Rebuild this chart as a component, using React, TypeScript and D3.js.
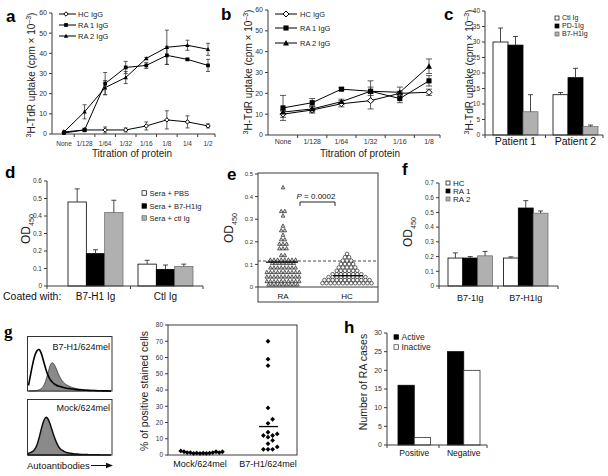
import React from 'react';
import * as d3 from 'd3';

const FONT = "'Liberation Sans', Arial, Helvetica, sans-serif";
const AXIS = '#3a3a3a';

// ---------- Panel a ----------
const aCats = ['None', '1/128', '1/64', '1/32', '1/16', '1/8', '1/4', '1/2'];
const aNames = ['HC IgG', 'RA 1 IgG', 'RA 2 IgG'];
const aHC = [1, 2, 2, 2, 4, 7, 6, 4];
const aHCErr = [0.4, 0.8, 1.5, 1, 2, 4.5, 3, 1];
const aRA1 = [0.5, 2, 25, 33, 34, 39, 37, 34];
const aRA1Err = [0.3, 0.8, 5.5, 3, 1.5, 4.5, 0.5, 3];
const aRA2 = [1, 11, 23, 28, 37.5, 43, 44, 42];
const aRA2Err = [0.3, 3.5, 3.5, 3, 0.5, 8.5, 2.5, 3];
const aYTicks = [0, 10, 20, 30, 40, 50, 60];

// ---------- Panel b ----------
const bCats = ['None', '1/128', '1/64', '1/32', '1/16', '1/8'];
const bNames = ['HC IgG', 'RA 1 IgG', 'RA 2 IgG'];
const bHC = [10, 12, 15, 16.5, 20, 20.5];
const bHCErr = [1.5, 1.5, 1.5, 4, 1, 1.5];
const bRA1 = [13, 15.5, 22, 21, 17.5, 26];
const bRA1Err = [6, 2, 0.7, 2, 2, 2.5];
const bRA2 = [11, 12.5, 16, 21, 20.5, 33];
const bRA2Err = [1, 1.5, 1.2, 5, 2.5, 3.5];
const bYTicks = [0, 10, 20, 30, 40, 50, 60];

// ---------- Panel c ----------
const cGroups = ['Patient 1', 'Patient 2'];
const cSeries = ['Ctl Ig', 'PD-1Ig', 'B7-H1Ig'];
const cCtl = [30, 13];
const cCtlErr = [4.5, 0.7];
const cPD1 = [29, 18.5];
const cPD1Err = [2.8, 3];
const cB7 = [7.5, 2.7];
const cB7Err = [5.5, 0.5];
const cYTicks = [0, 5, 10, 15, 20, 25, 30, 35, 40];

// ---------- Panel d ----------
const dGroups = ['B7-H1 Ig', 'Ctl Ig'];
const dSeries = ['Sera + PBS', 'Sera + B7-H1Ig', 'Sera + ctl Ig'];
const dPBS = [0.48, 0.125];
const dPBSErr = [0.075, 0.022];
const dB7 = [0.185, 0.095];
const dB7Err = [0.022, 0.025];
const dCtl = [0.42, 0.112];
const dCtlErr = [0.07, 0.013];
const dYTicks = [0, 0.1, 0.2, 0.3, 0.4, 0.5, 0.6];

// ---------- Panel e ----------
const eRA = [
  0.435, 0.33, 0.33, 0.31, 0.265, 0.245, 0.245, 0.225, 0.205, 0.205,
  0.185, 0.185, 0.185, 0.165, 0.165, 0.165, 0.135, 0.135,
  0.115, 0.115, 0.115, 0.115, 0.115, 0.115, 0.115, 0.115,
  0.1, 0.1, 0.1, 0.1, 0.1, 0.1, 0.1,
  0.08, 0.08, 0.08, 0.08, 0.08, 0.08, 0.08, 0.08,
  0.06, 0.06, 0.06, 0.06, 0.06, 0.06, 0.06, 0.06, 0.06, 0.06,
  0.04, 0.04, 0.04, 0.04, 0.04, 0.04, 0.04, 0.04, 0.04, 0.04,
  0.02, 0.02, 0.02, 0.02, 0.02, 0.02, 0.02, 0.02, 0.02, 0.02,
  0.005, 0.005, 0.005, 0.005, 0.005, 0.005, 0.005, 0.005, 0.005,
];
const eHC = [
  0.14, 0.125, 0.125, 0.11, 0.11, 0.11, 0.095, 0.095, 0.095, 0.095,
  0.08, 0.08, 0.08, 0.08, 0.08, 0.065, 0.065, 0.065, 0.065, 0.065, 0.065,
  0.05, 0.05, 0.05, 0.05, 0.05, 0.05, 0.05, 0.05,
  0.037, 0.037, 0.037, 0.037, 0.037, 0.037, 0.037, 0.037, 0.037, 0.037,
  0.024, 0.024, 0.024, 0.024, 0.024, 0.024, 0.024, 0.024, 0.024, 0.024, 0.024, 0.024,
  0.01, 0.01, 0.01, 0.01, 0.01, 0.01, 0.01, 0.01, 0.01, 0.01, 0.01, 0.01, 0.01,
];
const eMedianRA = 0.11;
const eMedianHC = 0.05;
const eCutoff = 0.115;
const eYTicks = [0, 0.1, 0.2, 0.3, 0.4, 0.5];

// ---------- Panel f ----------
const fGroups = ['B7-1Ig', 'B7-H1Ig'];
const fSeries = ['HC', 'RA 1', 'RA 2'];
const fHC = [0.19, 0.19];
const fHCErr = [0.035, 0.008];
const fRA1 = [0.19, 0.53];
const fRA1Err = [0.01, 0.05];
const fRA2 = [0.205, 0.495];
const fRA2Err = [0.03, 0.015];
const fYTicks = [0, 0.1, 0.2, 0.3, 0.4, 0.5, 0.6, 0.7];

// ---------- Panel g ----------
const gTopOpen = [0.1, 0.3, 0.5, 0.66, 0.74, 0.77, 0.7, 0.56, 0.42, 0.3, 0.22, 0.17, 0.13, 0.11, 0.09, 0.08, 0.07, 0.06, 0.05, 0.045, 0.04, 0.035, 0.03, 0.025, 0.02, 0.02, 0.015, 0.015, 0.012, 0.01, 0.01, 0.008, 0.006, 0.005, 0.004, 0.003, 0.002, 0.002, 0.001, 0];
const gTopFilled = [0, 0, 0, 0, 0.01, 0.02, 0.04, 0.08, 0.16, 0.3, 0.45, 0.53, 0.5, 0.42, 0.32, 0.24, 0.18, 0.14, 0.11, 0.09, 0.075, 0.06, 0.05, 0.042, 0.035, 0.03, 0.025, 0.02, 0.018, 0.015, 0.012, 0.01, 0.008, 0.006, 0.005, 0.004, 0.003, 0.002, 0.001, 0];
const gBottomFilled = [0.03, 0.04, 0.06, 0.1, 0.17, 0.3, 0.46, 0.6, 0.68, 0.67, 0.58, 0.46, 0.34, 0.24, 0.16, 0.11, 0.08, 0.06, 0.045, 0.035, 0.03, 0.025, 0.02, 0.016, 0.013, 0.011, 0.01, 0.008, 0.007, 0.006, 0.005, 0.004, 0.003, 0.003, 0.002, 0.002, 0.001, 0.001, 0, 0];
const gCats = ['Mock/624mel', 'B7-H1/624mel'];
const gMock = [1, 1.5, 1.2, 2, 1.5, 1, 2.5, 2, 1.5, 1.2, 2, 1.5, 1, 1.2];
const gB7 = [70, 59, 55, 29, 22, 19.5, 14, 13, 12, 12, 11, 9, 7, 5, 3.5, 3.5, 3.5];
const gB7Median = 17.5;
const gYTicks = [0, 10, 20, 30, 40, 50, 60, 70, 80];

// ---------- Panel h ----------
const hGroups = ['Positive', 'Negative'];
const hSeries = ['Active', 'Inactive'];
const hActive = [16, 25];
const hInactive = [2, 20];
const hYTicks = [0, 5, 10, 15, 20, 25, 30];

type MarkerType = 'diamond' | 'square' | 'triangle';

function Marker({ type, x, y, s }: { type: MarkerType; x: number; y: number; s: number }) {
  if (type === 'diamond')
    return <path d={`M${x},${y - s}L${x + s},${y}L${x},${y + s}L${x - s},${y}Z`} fill="#fff" stroke="#000" strokeWidth={1} />;
  if (type === 'square')
    return <rect x={x - s * 0.85} y={y - s * 0.85} width={s * 1.7} height={s * 1.7} fill="#000" />;
  return <path d={`M${x},${y - s}L${x + s},${y + s * 0.8}L${x - s},${y + s * 0.8}Z`} fill="#000" />;
}

function YAxis({ scale, x, ticks, fs = 7, len = 3, fmt }: any) {
  const [r0, r1] = scale.range();
  return (
    <g>
      <line x1={x} x2={x} y1={r0} y2={r1} stroke={AXIS} strokeWidth={1} />
      {ticks.map((t: number) => (
        <g key={t}>
          <line x1={x - len} x2={x} y1={scale(t)} y2={scale(t)} stroke={AXIS} />
          <text x={x - len - 2} y={scale(t)} dy="0.35em" textAnchor="end" fontSize={fs} fill="#333">
            {fmt ? fmt(t) : String(t)}
          </text>
        </g>
      ))}
    </g>
  );
}

function UptakeLabel({ x, y, fs = 10 }: { x: number; y: number; fs?: number }) {
  return (
    <text transform={`translate(${x},${y}) rotate(-90)`} textAnchor="middle" fontSize={fs} fill="#222">
      <tspan fontSize={fs * 0.7} dy={-fs * 0.4}>3</tspan>
      <tspan dy={fs * 0.4}>H-TdR uptake (cpm × 10</tspan>
      <tspan fontSize={fs * 0.7} dy={-fs * 0.4}>–3</tspan>
      <tspan dy={fs * 0.4}>)</tspan>
    </text>
  );
}

function ODLabel({ x, y, fs = 12 }: { x: number; y: number; fs?: number }) {
  return (
    <text transform={`translate(${x},${y}) rotate(-90)`} textAnchor="middle" fontSize={fs} fill="#222">
      OD<tspan fontSize={fs * 0.6} dy={fs * 0.3}>450</tspan>
    </text>
  );
}

function LinePanel({ cats, vals, errs, markers, names, xr, axX, ys, yTicks, ms, cap, labelY, labelFs, leg }: any) {
  const xs = d3.scalePoint<string>(cats, xr);
  const y0 = ys.range()[0];
  const mids: number[] = [];
  for (let i = 1; i < cats.length; i++) mids.push(((xs(cats[i - 1]) as number) + (xs(cats[i]) as number)) / 2);
  mids.push(axX[1]);
  const line = d3.line<number>().x((_, i) => xs(cats[i]) as number).y((d) => ys(d));
  return (
    <g>
      <YAxis scale={ys} x={axX[0]} ticks={yTicks} fs={7} />
      <line x1={axX[0]} x2={axX[1]} y1={y0} y2={y0} stroke={AXIS} />
      {mids.map((m, i) => <line key={i} x1={m} x2={m} y1={y0} y2={y0 + 3} stroke={AXIS} />)}
      {cats.map((c: string) => (
        <text key={c} x={xs(c)} y={labelY} textAnchor="middle" fontSize={labelFs} fill="#333">{c}</text>
      ))}
      {vals.map((sv: number[], si: number) => (
        <g key={si}>
          {sv.map((v, i) => {
            const x = xs(cats[i]) as number;
            const e = errs[si][i];
            return (
              <g key={i} stroke="#333" strokeWidth={0.8}>
                <line x1={x} x2={x} y1={ys(v - e)} y2={ys(v + e)} />
                <line x1={x - cap} x2={x + cap} y1={ys(v - e)} y2={ys(v - e)} />
                <line x1={x - cap} x2={x + cap} y1={ys(v + e)} y2={ys(v + e)} />
              </g>
            );
          })}
          <path d={line(sv) as string} fill="none" stroke="#000" strokeWidth={1} />
        </g>
      ))}
      {vals.map((sv: number[], si: number) =>
        sv.map((v, i) => <Marker key={`${si}-${i}`} type={markers[si]} x={xs(cats[i]) as number} y={ys(v)} s={ms} />)
      )}
      {names.map((n: string, i: number) => (
        <g key={n}>
          <line x1={leg.x0} x2={leg.x1} y1={leg.ys[i]} y2={leg.ys[i]} stroke="#000" />
          <Marker type={markers[i]} x={leg.mx} y={leg.ys[i]} s={ms} />
          <text x={leg.tx} y={leg.ys[i]} dy="0.35em" fontSize={leg.fs} fill="#222">{n}</text>
        </g>
      ))}
    </g>
  );
}

const FILL_STYLES = [
  { fill: '#fff', stroke: '#000', sw: 0.8 },
  { fill: '#000', stroke: '#000', sw: 0.8 },
  { fill: '#b0b0b0', stroke: '#666', sw: 0.7 },
];

function BarPanel({ groups, series, vals, errs, styles, band, pad, ys, axX, yTicks, yFmt, tickFs, groupLabelY, groupFs, leg }: any) {
  const gx = d3.scaleBand<string>(groups, band).paddingInner(pad).paddingOuter(pad / 2);
  const sx = d3.scaleBand<string>(series, [0, gx.bandwidth()]);
  const y0 = ys.range()[0];
  const bticks = [axX[0], ...groups.slice(1).map((g: string) => (gx(g) as number) - (gx.step() * pad) / 2), axX[1]];
  return (
    <g>
      <YAxis scale={ys} x={axX[0]} ticks={yTicks} fs={tickFs} fmt={yFmt} />
      {groups.map((g: string, gi: number) =>
        series.map((s: string, si: number) => {
          const v = vals[si][gi];
          const x = (gx(g) as number) + (sx(s) as number);
          const w = sx.bandwidth();
          const st = styles[si];
          const e = errs ? errs[si][gi] : 0;
          return (
            <g key={`${g}-${s}`}>
              <rect x={x} y={ys(v)} width={w} height={y0 - ys(v)} fill={st.fill} stroke={st.stroke} strokeWidth={st.sw} />
              {errs && (
                <g stroke="#333" strokeWidth={0.9}>
                  <line x1={x + w / 2} x2={x + w / 2} y1={ys(v)} y2={ys(v + e)} />
                  <line x1={x + w / 2 - 2.5} x2={x + w / 2 + 2.5} y1={ys(v + e)} y2={ys(v + e)} />
                </g>
              )}
            </g>
          );
        })
      )}
      <line x1={axX[0]} x2={axX[1]} y1={y0} y2={y0} stroke={AXIS} />
      {bticks.map((t: number, i: number) => <line key={i} x1={t} x2={t} y1={y0} y2={y0 + 3} stroke={AXIS} />)}
      {groups.map((g: string) => (
        <text key={g} x={(gx(g) as number) + gx.bandwidth() / 2} y={groupLabelY} textAnchor="middle" fontSize={groupFs} fill="#111">{g}</text>
      ))}
      {series.map((s: string, i: number) => (
        <g key={s}>
          <rect x={leg.x} y={leg.ys[i] - leg.sq / 2} width={leg.sq} height={leg.sq} fill={styles[i].fill} stroke={styles[i].stroke} strokeWidth={0.7} />
          <text x={leg.x + leg.sq + 3} y={leg.ys[i]} dy="0.35em" fontSize={leg.fs} fill="#222">{s}</text>
        </g>
      ))}
    </g>
  );
}

function rowLayout(vals: number[], cx: number, sp: number) {
  const out: { v: number; x: number }[] = [];
  d3.groups(vals, (v) => v).forEach(([v, arr]) => {
    arr.forEach((_, i) => out.push({ v, x: cx + (i - (arr.length - 1) / 2) * sp }));
  });
  return out;
}

function dodge(vals: number[], ys: (v: number) => number, cx: number, d: number) {
  const placed: { x: number; y: number; v: number }[] = [];
  [...vals].sort((a, b) => a - b).forEach((v) => {
    const y = ys(v);
    for (let k = 0; k < 200; k++) {
      const off = k === 0 ? 0 : (k % 2 === 1 ? 1 : -1) * Math.ceil(k / 2) * d;
      const x = cx + off;
      if (placed.every((p) => Math.hypot(p.x - x, p.y - y) >= d)) {
        placed.push({ x, y, v });
        break;
      }
    }
  });
  return placed;
}

function Histogram({ bins, x0, x1, yb, yt, filled, sw }: any) {
  const xs = d3.scaleLinear([0, bins.length - 1], [x0, x1]);
  const ys = d3.scaleLinear([0, 1], [yb, yt]);
  if (filled) {
    const area = d3.area<number>().x((_, i) => xs(i)).y0(yb).y1((d) => ys(d)).curve(d3.curveBasis);
    return <path d={area(bins) as string} fill="#8a8a8a" stroke="#111" strokeWidth={sw} />;
  }
  const line = d3.line<number>().x((_, i) => xs(i)).y((d) => ys(d)).curve(d3.curveBasis);
  return <path d={line(bins) as string} fill="none" stroke="#000" strokeWidth={sw} />;
}

export default function App() {
  const ayS = d3.scaleLinear([0, 60], [134, 13]);
  const byS = d3.scaleLinear([0, 60], [135, 10]);
  const cyS = d3.scaleLinear([0, 40], [135, 11]);
  const dyS = d3.scaleLinear([0, 0.6], [286, 181]);
  const eyS = d3.scaleLinear([0, 0.5], [287, 174]);
  const eRApts = rowLayout(eRA, 283, 3.6);
  const eHCpts = rowLayout(eHC, 347, 4.1);
  const fyS = d3.scaleLinear([0, 0.7], [286, 183]);
  const gyS = d3.scaleLinear([0, 80], [455, 325]);
  const gx = d3.scalePoint<string>(gCats, [200, 268]);
  const mockPts = dodge(gMock, gyS, gx('Mock/624mel') as number, 3.2);
  const b7Pts = dodge(gB7, gyS, gx('B7-H1/624mel') as number, 4.6);
  const hyS = d3.scaleLinear([0, 30], [445, 333]);

  const fmt1 = (t: number) => (t === 0 ? '0' : t.toFixed(1));

  return (
    <div style={{ position: 'absolute', left: 0, top: 0 }}>
      <svg width={608} height={476} style={{ display: 'block', background: '#fff' }} fontFamily={FONT}>
        <rect x={0} y={0} width={608} height={476} fill="#fff" />

        <g fontWeight="bold" fill="#000" fontSize={17}>
          <text x={6} y={22}>a</text>
          <text x={221} y={20}>b</text>
          <text x={444} y={20}>c</text>
          <text x={5} y={178}>d</text>
          <text x={227} y={180}>e</text>
          <text x={402} y={175}>f</text>
          <text x={4} y={337} fontFamily="'Liberation Serif', serif">g</text>
          <text x={344} y={333}>h</text>
        </g>

        {/* a */}
        <LinePanel
          cats={aCats} vals={[aHC, aRA1, aRA2]} errs={[aHCErr, aRA1Err, aRA2Err]}
          markers={['diamond', 'square', 'triangle']} names={aNames}
          xr={[64, 208]} axX={[52, 215]} ys={ayS} yTicks={aYTicks} ms={2.2} cap={2}
          labelY={145.5} labelFs={6.5}
          leg={{ x0: 59, x1: 76, mx: 66, tx: 78, ys: [14, 25, 36], fs: 7.5 }}
        />
        <UptakeLabel x={35} y={75} fs={10} />
        <text x={132} y={157} textAnchor="middle" fontSize={10} fill="#222">Titration of protein</text>

        {/* b */}
        <LinePanel
          cats={bCats} vals={[bHC, bRA1, bRA2]} errs={[bHCErr, bRA1Err, bRA2Err]}
          markers={['diamond', 'square', 'triangle']} names={bNames}
          xr={[283, 429]} axX={[268, 440]} ys={byS} yTicks={bYTicks} ms={3} cap={3}
          labelY={143.5} labelFs={7}
          leg={{ x0: 275, x1: 297, mx: 286, tx: 300, ys: [14, 28, 43], fs: 7.5 }}
        />
        <UptakeLabel x={252} y={72} fs={10} />
        <text x={360} y={157} textAnchor="middle" fontSize={10} fill="#222">Titration of protein</text>

        {/* c */}
        <BarPanel
          groups={cGroups} series={cSeries} vals={[cCtl, cPD1, cB7]} errs={[cCtlErr, cPD1Err, cB7Err]}
          styles={FILL_STYLES} band={[485.5, 605.5]} pad={0.25} ys={cyS} axX={[485, 603]}
          yTicks={cYTicks} tickFs={6.5} groupLabelY={145} groupFs={10.5}
          leg={{ x: 555, ys: [18, 26, 34], sq: 4, fs: 7 }}
        />
        <UptakeLabel x={473} y={72} fs={10} />

        {/* d */}
        <BarPanel
          groups={dGroups} series={dSeries} vals={[dPBS, dB7, dCtl]} errs={[dPBSErr, dB7Err, dCtlErr]}
          styles={FILL_STYLES} band={[60.5, 200.5]} pad={15 / 70} ys={dyS} axX={[47, 203]}
          yTicks={dYTicks} yFmt={fmt1} tickFs={6.5} groupLabelY={300} groupFs={10}
          leg={{ x: 142, ys: [193, 206, 218], sq: 4.5, fs: 7.5 }}
        />
        <text x={3} y={300} fontSize={10.5} fill="#111">Coated with:</text>
        <ODLabel x={30} y={229} fs={12} />

        {/* e */}
        <g>
          <rect x={258} y={173} width={120} height={129} fill="none" stroke={AXIS} />
          <line x1={258} x2={378} y1={287} y2={287} stroke={AXIS} />
          {eYTicks.map((t) => (
            <g key={t}>
              <line x1={255} x2={258} y1={eyS(t)} y2={eyS(t)} stroke={AXIS} />
              <text x={253} y={eyS(t)} dy="0.35em" textAnchor="end" fontSize={6} fill="#333">{t === 0 ? '0' : t.toFixed(1)}</text>
            </g>
          ))}
          <line x1={258} x2={378} y1={eyS(eCutoff)} y2={eyS(eCutoff)} stroke="#333" strokeDasharray="3,2" strokeWidth={0.9} />
          {eRApts.map((p, i) => {
            const y = eyS(p.v) - 1.2;
            return <path key={i} d={`M${p.x},${y - 2}L${p.x + 1.8},${y + 1.4}L${p.x - 1.8},${y + 1.4}Z`} fill="#d8d8d8" stroke="#222" strokeWidth={0.7} />;
          })}
          {eHCpts.map((p, i) => (
            <circle key={i} cx={p.x} cy={eyS(p.v) - 1.5} r={1.8} fill="#fff" stroke="#222" strokeWidth={0.7} />
          ))}
          <line x1={266} x2={298} y1={eyS(eMedianRA)} y2={eyS(eMedianRA)} stroke="#000" strokeWidth={1.3} />
          <line x1={333} x2={363} y1={eyS(eMedianHC)} y2={eyS(eMedianHC)} stroke="#000" strokeWidth={1.3} />
          <text x={316} y={199} textAnchor="middle" fontSize={8} fill="#111">
            <tspan fontStyle="italic">P</tspan> = 0.0002
          </text>
          <path d="M300,206V202H335V206" fill="none" stroke="#222" strokeWidth={1} />
          <text x={283} y={299} textAnchor="middle" fontSize={8} fill="#111">RA</text>
          <text x={347} y={299} textAnchor="middle" fontSize={8} fill="#111">HC</text>
          <ODLabel x={233} y={228} fs={12} />
        </g>

        {/* f */}
        <BarPanel
          groups={fGroups} series={fSeries} vals={[fHC, fRA1, fRA2]} errs={[fHCErr, fRA1Err, fRA2Err]}
          styles={FILL_STYLES} band={[442.5, 553.5]} pad={11 / 55.5} ys={fyS} axX={[439, 558]}
          yTicks={fYTicks} yFmt={fmt1} tickFs={6.5} groupLabelY={301} groupFs={9}
          leg={{ x: 446, ys: [183, 191, 199], sq: 4, fs: 8 }}
        />
        <ODLabel x={412} y={232} fs={12} />

        {/* g histograms */}
        <g>
          <rect x={27.5} y={336.5} width={84.5} height={54.5} fill="#fff" stroke="#333" />
          <Histogram bins={gTopFilled} x0={28.5} x1={111} yb={391} yt={336} filled sw={0.6} />
          <Histogram bins={gTopOpen} x0={28.5} x1={111} yb={391} yt={336} sw={1.6} />
          <text x={110} y={350} textAnchor="end" fontSize={9} fill="#111">B7-H1/624mel</text>
          <rect x={27.5} y={399.5} width={84.5} height={55.5} fill="#fff" stroke="#333" />
          <Histogram bins={gBottomFilled} x0={28.5} x1={111} yb={455} yt={399} filled sw={1.5} />
          <text x={110} y={411} textAnchor="end" fontSize={9} fill="#111">Mock/624mel</text>
          <text x={27} y={469} fontSize={9.5} fill="#111">Autoantibodies</text>
          <line x1={91} x2={108} y1={465.5} y2={465.5} stroke="#111" strokeWidth={1} />
          <path d="M113,465.5L106,462.8L106,468.2Z" fill="#111" />
        </g>

        {/* g scatter */}
        <g>
          <rect x={168} y={325} width={129} height={130} fill="none" stroke={AXIS} />
          {gYTicks.map((t) => (
            <g key={t}>
              <line x1={165} x2={168} y1={gyS(t)} y2={gyS(t)} stroke={AXIS} />
              <text x={163} y={gyS(t)} dy="0.35em" textAnchor="end" fontSize={6.5} fill="#333">{t}</text>
            </g>
          ))}
          {[...mockPts, ...b7Pts].map((p, i) => (
            <path key={i} d={`M${p.x},${p.y - 2.4}L${p.x + 2.4},${p.y}L${p.x},${p.y + 2.4}L${p.x - 2.4},${p.y}Z`} fill="#000" />
          ))}
          <line x1={259} x2={278} y1={gyS(gB7Median)} y2={gyS(gB7Median)} stroke="#000" strokeWidth={1.3} />
          {gCats.map((c) => (
            <text key={c} x={gx(c)} y={467} textAnchor="middle" fontSize={9} fill="#111">{c}</text>
          ))}
          <text transform="translate(148,391) rotate(-90)" textAnchor="middle" fontSize={10.5} fill="#222">% of positive stained cells</text>
        </g>

        {/* h */}
        <BarPanel
          groups={hGroups} series={hSeries} vals={[hActive, hInactive]} errs={null}
          styles={[{ fill: '#000', stroke: '#000', sw: 0.8 }, { fill: '#fff', stroke: '#333', sw: 0.8 }]}
          band={[389.5, 488.5]} pad={17 / 49.5} ys={hyS} axX={[387, 487]}
          yTicks={hYTicks} tickFs={7} groupLabelY={456} groupFs={8.5}
          leg={{ x: 394, ys: [337, 347], sq: 4.5, fs: 8.5 }}
        />
        <text transform="translate(367,382) rotate(-90)" textAnchor="middle" fontSize={10.5} fill="#222">Number of RA cases</text>
      </svg>
    </div>
  );
}
